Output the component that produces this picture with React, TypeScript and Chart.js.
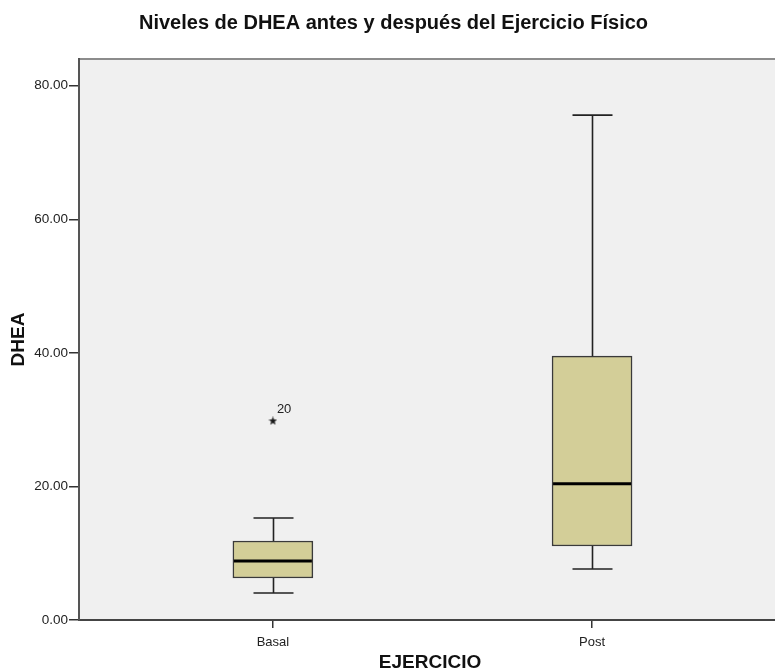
import React, { useEffect, useRef } from 'react';
import { Chart, registerables } from 'chart.js';
Chart.register(...registerables);

// ---- data ----
const categories = ['Basal', 'Post'];
const categoryPositions = [1, 2];
const whiskerLow = [4.04, 7.63];
const q1 = [6.29, 11.08];
const median = [8.83, 20.4];
const q3 = [11.83, 39.5];
const whiskerHigh = [15.27, 75.6];
const outlierCategory = [0];
const outlierValues = [29.8];
const outlierLabels = ['20'];
const yTicks = [0, 20, 40, 60, 80];

const FONT = "'Liberation Sans', Arial, Helvetica, sans-serif";

function makeStar(size: number, color: string) {
  const c = document.createElement('canvas');
  c.width = size;
  c.height = size;
  const g = c.getContext('2d')!;
  const cx = size / 2, cy = size / 2;
  const R = size / 2, r = R * 0.42;
  g.beginPath();
  for (let i = 0; i < 10; i++) {
    const ang = -Math.PI / 2 + (i * Math.PI) / 5;
    const rad = i % 2 === 0 ? R : r;
    const x = cx + rad * Math.cos(ang);
    const y = cy + rad * Math.sin(ang);
    if (i === 0) g.moveTo(x, y); else g.lineTo(x, y);
  }
  g.closePath();
  g.fillStyle = color;
  g.fill();
  return c;
}

const boxPlugin = {
  id: 'boxExtras',
  beforeDraw(chart: any) {
    const { ctx, chartArea: a } = chart;
    ctx.save();
    ctx.fillStyle = '#f0f0f0';
    ctx.fillRect(a.left, a.top, a.right - a.left + 10, a.bottom - a.top);
    ctx.strokeStyle = '#8c8c8c';
    ctx.lineWidth = 2;
    ctx.beginPath();
    ctx.moveTo(a.left, a.top);
    ctx.lineTo(a.right + 10, a.top);
    ctx.stroke();
    ctx.restore();
  },
  afterDatasetsDraw(chart: any) {
    const { ctx } = chart;
    const xs = chart.scales.x;
    const ys = chart.scales.y;
    const capHalf = 20;
    const boxHalf = 40;
    ctx.save();
    ctx.strokeStyle = '#222';
    ctx.lineWidth = 1.6;
    categoryPositions.forEach((p, i) => {
      const x = Math.round(xs.getPixelForValue(p)) + 0.5;
      const yLo = ys.getPixelForValue(whiskerLow[i]);
      const yQ1 = ys.getPixelForValue(q1[i]);
      const yQ3 = ys.getPixelForValue(q3[i]);
      const yHi = ys.getPixelForValue(whiskerHigh[i]);
      ctx.beginPath();
      ctx.moveTo(x, yQ3); ctx.lineTo(x, yHi);
      ctx.moveTo(x - capHalf, yHi); ctx.lineTo(x + capHalf, yHi);
      ctx.moveTo(x, yQ1); ctx.lineTo(x, yLo);
      ctx.moveTo(x - capHalf, yLo); ctx.lineTo(x + capHalf, yLo);
      ctx.stroke();
    });
    ctx.strokeStyle = '#000';
    ctx.lineWidth = 3;
    categoryPositions.forEach((p, i) => {
      const x = xs.getPixelForValue(p);
      const yM = ys.getPixelForValue(median[i]);
      ctx.beginPath();
      ctx.moveTo(x - boxHalf + 1, yM); ctx.lineTo(x + boxHalf - 1, yM);
      ctx.stroke();
    });
    ctx.fillStyle = '#222';
    ctx.font = `13px ${FONT}`;
    ctx.textAlign = 'left';
    ctx.textBaseline = 'alphabetic';
    outlierValues.forEach((v, i) => {
      const x = xs.getPixelForValue(categoryPositions[outlierCategory[i]]);
      const y = ys.getPixelForValue(v);
      ctx.fillText(outlierLabels[i], x + 4, y - 8);
    });
    ctx.restore();
  },
};

export default function App() {
  const ref = useRef<HTMLCanvasElement | null>(null);
  useEffect(() => {
    if (!ref.current) return;
    const star = makeStar(9, '#1a1a1a');
    const chart = new Chart(ref.current, {
      type: 'bar',
      data: {
        datasets: [
          {
            type: 'bar',
            data: categoryPositions.map((p, i) => ({ x: p, y: [q1[i], q3[i]] })) as any,
            backgroundColor: '#d3ce98',
            borderColor: '#3a3a3a',
            borderWidth: 1.5,
            borderSkipped: false,
            barThickness: 80,
          } as any,
          {
            type: 'scatter',
            data: outlierValues.map((v, i) => ({ x: categoryPositions[outlierCategory[i]], y: v })),
            pointStyle: star as any,
            pointRadius: 5,
          } as any,
        ],
      },
      options: {
        animation: false,
        responsive: false,
        devicePixelRatio: 1,
        layout: { padding: 0 },
        plugins: {
          legend: { display: false },
          tooltip: { enabled: false },
          title: {
            display: true,
            text: 'Niveles de DHEA antes y después del Ejercicio Físico',
            color: '#111',
            font: { family: FONT, size: 20, weight: 'bold', lineHeight: 1.2 },
            padding: { top: 11.5, bottom: 23.5 },
          },
        },
        scales: {
          x: {
            type: 'linear',
            min: 0.3925,
            max: 2.592,
            offset: false,
            afterBuildTicks: (s: any) => {
              s.ticks = categoryPositions.map((v) => ({ value: v }));
            },
            afterFit: (s: any) => { s.height = 52; },
            ticks: {
              color: '#222',
              font: { family: FONT, size: 13 },
              padding: 7,
              autoSkip: false,
              maxRotation: 0,
              callback: (v: any) => {
                const idx = categoryPositions.indexOf(Number(v));
                return idx >= 0 ? categories[idx] : '';
              },
            },
            grid: { offset: false, drawOnChartArea: false, drawTicks: true, tickLength: 8, color: '#333', lineWidth: 1.5 },
            border: { display: true, color: '#444', width: 2 },
            title: {
              display: true,
              text: 'EJERCICIO',
              color: '#111',
              font: { family: FONT, size: 19, weight: 'bold', lineHeight: 1 },
              padding: { top: 0, bottom: 0 },
            },
          },
          y: {
            type: 'linear',
            min: 0,
            max: 84,
            afterBuildTicks: (s: any) => {
              s.ticks = yTicks.map((v) => ({ value: v }));
            },
            afterFit: (s: any) => { s.width = 79; },
            ticks: {
              color: '#222',
              font: { family: FONT, size: 13.5 },
              padding: 1,
              callback: (v: any) => Number(v).toFixed(2),
            },
            grid: { drawOnChartArea: false, drawTicks: true, tickLength: 10, color: '#333', lineWidth: 1.5 },
            border: { display: true, color: '#555', width: 2 },
            title: {
              display: true,
              text: 'DHEA',
              color: '#111',
              font: { family: FONT, size: 19, weight: 'bold', lineHeight: 1.2 },
              padding: { top: 7.6, bottom: 0 },
            },
          },
        },
      },
      plugins: [boxPlugin],
    } as any);
    return () => chart.destroy();
  }, []);
  return (
    <div style={{ position: 'fixed', left: 0, top: 0, width: 775, height: 672, overflow: 'hidden', background: '#fff' }}>
      <canvas ref={ref} width={787} height={672} style={{ display: 'block', width: 787, height: 672 }} />
    </div>
  );
}
